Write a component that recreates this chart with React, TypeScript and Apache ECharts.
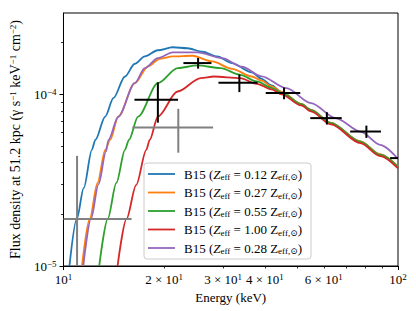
import React, { useEffect, useRef } from 'react';
import * as echarts from 'echarts';

// ---- data (energies in keV, flux in units of 1e-5 photons s^-1 keV^-1 cm^-2) ----
const zValues = ['0.12', '0.27', '0.55', '1.00', '0.28'];
const seriesColors = ['#1f77b4', '#ff7f0e', '#2ca02c', '#d62728', '#9467bd'];

const blueEnergy = [10.42, 10.96, 11.5, 12.16, 12.45, 13.33, 14.1, 15.27, 16.34, 17.5, 19.15, 21.21, 23.49, 26.01, 28.8, 31.89, 36.54, 39.11, 41.87, 44.81, 51.35, 54.95, 62.97, 77.23, 88.47, 100];
const blueFlux = [1.0, 1.88, 2.85, 4.75, 5.43, 7.42, 9.5, 12.7, 15.06, 16.61, 18.05, 18.79, 18.54, 17.69, 16.6, 15.2, 13.44, 12.31, 11.28, 10.34, 8.8, 8.12, 6.82, 5.31, 4.46, 3.78];

const orangeEnergy = [11.36, 11.98, 12.64, 13.33, 13.79, 14.58, 16.34, 17.89, 19.41, 21.21, 24.3, 27.84, 31.89, 36.54, 39.11, 41.87, 44.81, 51.35, 54.95, 62.97, 77.23, 88.47, 100];
const orangeFlux = [1.0, 1.88, 3.05, 4.75, 5.43, 7.42, 11.62, 14.52, 16.11, 16.61, 16.77, 15.53, 14.08, 12.7, 12.0, 11.11, 10.34, 8.8, 8.12, 6.82, 5.31, 4.46, 3.78];

const greenEnergy = [12.79, 13.56, 14.39, 15.27, 15.69, 16.71, 19.15, 21.94, 25.14, 29.45, 33.74, 37.81, 41.87, 44.81, 51.35, 54.95, 62.97, 77.23, 88.47, 100];
const greenFlux = [1.0, 1.88, 3.05, 4.75, 5.43, 7.42, 11.62, 14.22, 14.72, 14.22, 12.99, 11.88, 10.91, 10.2, 8.75, 8.08, 6.79, 5.29, 4.44, 3.77];

const redEnergy = [14.51, 15.43, 16.49, 17.69, 18.1, 19.15, 21.94, 25.71, 28.16, 33.74, 37.81, 41.87, 44.81, 51.35, 54.95, 62.97, 77.23, 88.47, 100];
const redFlux = [1.0, 1.88, 2.96, 4.75, 5.43, 7.42, 10.38, 12.43, 12.7, 12.43, 11.51, 10.69, 10.0, 8.62, 7.96, 6.68, 5.2, 4.37, 3.7];

const purpleEnergy = [11.46, 12.08, 12.73, 13.4, 13.63, 14.58, 16.34, 17.5, 19.15, 21.21, 25.14, 29.8, 34.14, 39.11, 46.37, 54.95, 65.15, 77.23, 88.47, 100];
const purpleFlux = [1.0, 1.88, 3.0, 4.65, 5.43, 7.4, 11.62, 14.22, 16.26, 17.53, 17.53, 16.26, 14.47, 12.73, 10.87, 8.89, 7.27, 6.07, 5.08, 4.21];

// measured points: energy, flux(1e-5), energy error, flux error(1e-5)
const blackEnergy = [19.15, 25.26, 33.56, 45.64, 61.28, 80.44, 106];
const blackFlux = [9.29, 15.2, 11.67, 10.16, 7.265, 6.07, 4.25];
const blackEnergyErr = [2.85, 2.43, 4.5, 5.4, 6.6, 8.5, 11.3];
const blackFluxErr = [2.45, 1.09, 1.37, 0.8, 0.6, 0.5, 0.35];

const grayEnergy = [10.98, 22.04];
const grayFlux = [1.879, 6.4];
const grayEnergyErr = [5.0, 5.97];
const grayFluxErr = [2.5, 1.83];

const xMajorTicks = [10, 100];
const xMinorTicks = [20, 30, 40, 50, 60, 70, 80, 90];
const xLabelValues = [10, 20, 30, 40, 60, 100];
const xLabelTexts = ['10{sup|1}', '2 × 10{sup|1}', '3 × 10{sup|1}', '4 × 10{sup|1}', '6 × 10{sup|1}', '10{sup|2}'];
const yMajorTicks = [1e-5, 1e-4];
const yMinorTicks = [2e-5, 3e-5, 4e-5, 5e-5, 6e-5, 7e-5, 8e-5, 9e-5, 2e-4];
const yLabelTexts = ['10{sup|−5}', '10{sup|−4}'];

const X_MIN = 10;
const X_MAX = 100;
const Y_MIN = 1e-5;
const Y_MAX = 2.975e-4;
const UNIT = 1e-5;

const FONT = '"Liberation Serif", "DejaVu Serif", serif';

export default function App() {
  const ref = useRef<HTMLDivElement>(null);
  useEffect(() => {
    if (!ref.current) return;
    const chart = echarts.init(ref.current, undefined, { renderer: 'svg' });
    const lg = Math.log10;
    const lxMin = lg(X_MIN), lxMax = lg(X_MAX), lyMin = lg(Y_MIN), lyMax = lg(Y_MAX);
    const clampX = (v: number) => Math.min(Math.max(v, lxMin), lxMax);
    const clampY = (v: number) => Math.min(Math.max(v, lyMin), lyMax);

    const curves = [
      [blueEnergy, blueFlux],
      [orangeEnergy, orangeFlux],
      [greenEnergy, greenFlux],
      [redEnergy, redFlux],
      [purpleEnergy, purpleFlux],
    ];
    const nearestIndex = (arr: number[], v: number) => {
      let best = 0;
      arr.forEach((a, i) => { if (Math.abs(lg(a) - v) < Math.abs(lg(arr[best]) - v)) best = i; });
      return best;
    };
    const legendText = (name: string) =>
      `B15 ({iz|Z}{sub|eff} = ${name} Z{sub|eff,⊙})`;

    const lineSeries = curves.map(([en, fl], i) => ({
      type: 'line',
      name: zValues[i],
      data: en.map((e, k) => [lg(e), lg(fl[k] * UNIT)]),
      showSymbol: false,
      symbol: 'none',
      smooth: 0.3,
      smoothMonotone: 'x',
      clip: true,
      color: seriesColors[i],
      lineStyle: { width: 1.8, color: seriesColors[i] },
      z: 2,
    }));

    const errSeries = (en: number[], fl: number[], ee: number[], fe: number[], color: string) => ({
      type: 'custom',
      clip: true,
      z: 3,
      data: en.map((e, k) => [e, fl[k] * UNIT, ee[k], fe[k] * UNIT]),
      encode: { x: 0, y: 1 },
      renderItem: (params: any, api: any) => {
        const E = api.value(0), F = api.value(1), xe = api.value(2), ye = api.value(3);
        const lx = lg(E), ly = lg(F);
        const x0 = clampX(E - xe > 0 ? lg(E - xe) : lxMin);
        const x1 = clampX(lg(E + xe));
        const y0 = clampY(F - ye > 0 ? lg(F - ye) : lyMin);
        const y1 = clampY(lg(F + ye));
        const children: any[] = [];
        const style = { stroke: color, lineWidth: 2 };
        if (ly >= lyMin && ly <= lyMax && x1 > x0) {
          const a = api.coord([x0, ly]);
          const b = api.coord([x1, ly]);
          children.push({ type: 'line', shape: { x1: a[0], y1: a[1], x2: b[0], y2: b[1] }, style });
        }
        if (lx >= lxMin && lx <= lxMax && y1 > y0) {
          const a = api.coord([lx, y0]);
          const b = api.coord([lx, y1]);
          children.push({ type: 'line', shape: { x1: a[0], y1: a[1], x2: b[0], y2: b[1] }, style });
        }
        return { type: 'group', children };
      },
    });

    const supRich = {
      sup: { fontSize: 9, verticalAlign: 'top', lineHeight: 9, fontFamily: FONT, color: '#000' },
    };

    chart.setOption({
      animation: false,
      backgroundColor: '#fff',
      textStyle: { fontFamily: FONT },
      grid: {
        left: 59, top: 13, right: 18, bottom: 45,
        show: true, borderColor: '#000', borderWidth: 1, backgroundColor: 'transparent',
      },
      legend: {
        orient: 'vertical',
        left: 144,
        top: 163,
        padding: [3.5, 9, 3.5, 4],
        itemWidth: 27,
        itemHeight: 14,
        itemGap: 3.5,
        icon: 'path://M0,0H27V1.8H0Z',
        symbolKeepAspect: true,
        backgroundColor: 'rgba(255,255,255,0.8)',
        borderColor: '#cccccc',
        borderWidth: 1,
        borderRadius: 3,
        data: zValues,
        formatter: legendText,
        textStyle: {
          fontFamily: FONT,
          fontSize: 13,
          lineHeight: 15,
          color: '#000',
          padding: [0, 0, 0, 4],
          rich: {
            iz: { fontStyle: 'italic', fontSize: 13, fontFamily: FONT, color: '#000' },
            sub: { fontSize: 9, verticalAlign: 'bottom', lineHeight: 9, fontFamily: FONT, color: '#000' },
          },
        },
      },
      xAxis: [
        {
          type: 'value',
          min: lxMin, max: lxMax,
          position: 'bottom',
          splitLine: { show: false },
          axisLine: { show: true, lineStyle: { color: '#000', width: 1 } },
          axisTick: { show: true, customValues: xMajorTicks.map(lg), length: 4, lineStyle: { color: '#000', width: 1 } },
          axisLabel: {
            show: true,
            customValues: xLabelValues.map(lg),
            margin: 6,
            fontSize: 13,
            lineHeight: 14,
            fontFamily: FONT,
            color: '#000',
            formatter: (v: number) => xLabelTexts[nearestIndex(xLabelValues, v)],
            rich: supRich,
          },
          name: 'Energy (keV)',
          nameLocation: 'middle',
          nameGap: 22,
          nameTextStyle: { fontSize: 13, fontFamily: FONT, color: '#000' },
        },
        {
          type: 'value',
          min: lxMin, max: lxMax,
          position: 'bottom',
          splitLine: { show: false },
          axisLine: { show: false },
          axisTick: { show: true, customValues: xMinorTicks.map(lg), length: 2.5, lineStyle: { color: '#000', width: 0.8 } },
          axisLabel: { show: false },
        },
      ],
      yAxis: [
        {
          type: 'value',
          min: lyMin, max: lyMax,
          position: 'left',
          splitLine: { show: false },
          axisLine: { show: true, lineStyle: { color: '#000', width: 1 } },
          axisTick: { show: true, customValues: yMajorTicks.map(lg), length: 4, lineStyle: { color: '#000', width: 1 } },
          axisLabel: {
            show: true,
            customValues: yMajorTicks.map(lg),
            margin: 7,
            fontSize: 13,
            lineHeight: 14,
            fontFamily: FONT,
            color: '#000',
            formatter: (v: number) => yLabelTexts[nearestIndex(yMajorTicks, v)],
            rich: supRich,
          },
          name: 'Flux density at 51.2 kpc (γ s{sup|−1} keV{sup|−1} cm{sup|−2})',
          nameLocation: 'middle',
          nameRotate: 90,
          nameGap: 37,
          nameTextStyle: { fontSize: 14, lineHeight: 15, fontFamily: FONT, color: '#000', rich: supRich },
        },
        {
          type: 'value',
          min: lyMin, max: lyMax,
          position: 'left',
          splitLine: { show: false },
          axisLine: { show: false },
          axisTick: { show: true, customValues: yMinorTicks.map(lg), length: 2.5, lineStyle: { color: '#000', width: 0.8 } },
          axisLabel: { show: false },
        },
      ],
      series: [
        ...lineSeries,
        errSeries(grayEnergy, grayFlux, grayEnergyErr, grayFluxErr, '#808080'),
        errSeries(blackEnergy, blackFlux, blackEnergyErr, blackFluxErr, '#000000'),
      ],
    });
    return () => chart.dispose();
  }, []);
  return (
    <div
      ref={ref}
      style={{ position: 'fixed', left: 0, top: 0, width: 416, height: 311, background: '#fff' }}
    />
  );
}
